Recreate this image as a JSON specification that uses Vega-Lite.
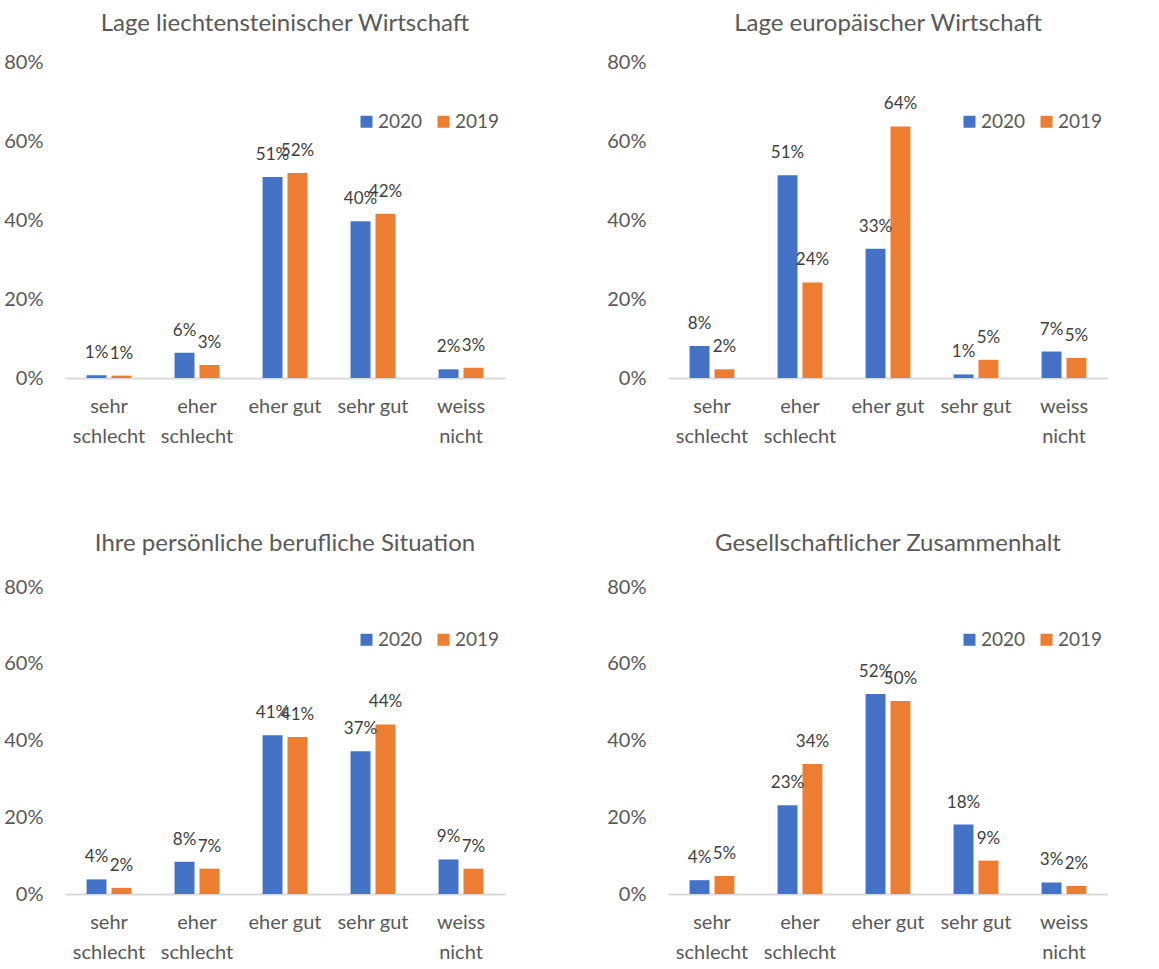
{
  "$schema": "https://vega.github.io/schema/vega-lite/v6.json",
  "padding": {"left": 3, "top": 12, "right": 0, "bottom": 0},
  "background": "white",
  "config": {
    "view": {"stroke": null},
    "font": "Lato",
    "title": {"fontSize": 24, "fontWeight": "normal", "color": "#595959", "anchor": "middle", "offset": 16, "font": "Lato"},
    "axis": {"labelFont": "Lato", "labelFontSize": 20, "labelColor": "#595959", "ticks": false, "grid": false, "title": null},
    "legend": {"labelFont": "Lato", "labelFontSize": 19, "labelColor": "#595959", "symbolType": "square", "symbolSize": 144, "symbolStrokeWidth": 0, "direction": "horizontal", "orient": "none", "columnPadding": 11, "labelOffset": 2, "padding": 0, "title": null}
  },
  "datasets": {
    "d": [
      {"panel": "A", "kategorie": "sehr schlecht", "jahr": "2020", "anteil": 0.007},
      {"panel": "A", "kategorie": "sehr schlecht", "jahr": "2019", "anteil": 0.006},
      {"panel": "A", "kategorie": "eher schlecht", "jahr": "2020", "anteil": 0.064},
      {"panel": "A", "kategorie": "eher schlecht", "jahr": "2019", "anteil": 0.033},
      {"panel": "A", "kategorie": "eher gut", "jahr": "2020", "anteil": 0.509},
      {"panel": "A", "kategorie": "eher gut", "jahr": "2019", "anteil": 0.519},
      {"panel": "A", "kategorie": "sehr gut", "jahr": "2020", "anteil": 0.397},
      {"panel": "A", "kategorie": "sehr gut", "jahr": "2019", "anteil": 0.416},
      {"panel": "A", "kategorie": "weiss nicht", "jahr": "2020", "anteil": 0.022},
      {"panel": "A", "kategorie": "weiss nicht", "jahr": "2019", "anteil": 0.026},
      {"panel": "B", "kategorie": "sehr schlecht", "jahr": "2020", "anteil": 0.081},
      {"panel": "B", "kategorie": "sehr schlecht", "jahr": "2019", "anteil": 0.022},
      {"panel": "B", "kategorie": "eher schlecht", "jahr": "2020", "anteil": 0.513},
      {"panel": "B", "kategorie": "eher schlecht", "jahr": "2019", "anteil": 0.242},
      {"panel": "B", "kategorie": "eher gut", "jahr": "2020", "anteil": 0.327},
      {"panel": "B", "kategorie": "eher gut", "jahr": "2019", "anteil": 0.637},
      {"panel": "B", "kategorie": "sehr gut", "jahr": "2020", "anteil": 0.009},
      {"panel": "B", "kategorie": "sehr gut", "jahr": "2019", "anteil": 0.046},
      {"panel": "B", "kategorie": "weiss nicht", "jahr": "2020", "anteil": 0.067},
      {"panel": "B", "kategorie": "weiss nicht", "jahr": "2019", "anteil": 0.051},
      {"panel": "C", "kategorie": "sehr schlecht", "jahr": "2020", "anteil": 0.038},
      {"panel": "C", "kategorie": "sehr schlecht", "jahr": "2019", "anteil": 0.016},
      {"panel": "C", "kategorie": "eher schlecht", "jahr": "2020", "anteil": 0.084},
      {"panel": "C", "kategorie": "eher schlecht", "jahr": "2019", "anteil": 0.066},
      {"panel": "C", "kategorie": "eher gut", "jahr": "2020", "anteil": 0.414},
      {"panel": "C", "kategorie": "eher gut", "jahr": "2019", "anteil": 0.409},
      {"panel": "C", "kategorie": "sehr gut", "jahr": "2020", "anteil": 0.372},
      {"panel": "C", "kategorie": "sehr gut", "jahr": "2019", "anteil": 0.442},
      {"panel": "C", "kategorie": "weiss nicht", "jahr": "2020", "anteil": 0.090},
      {"panel": "C", "kategorie": "weiss nicht", "jahr": "2019", "anteil": 0.066},
      {"panel": "D", "kategorie": "sehr schlecht", "jahr": "2020", "anteil": 0.036},
      {"panel": "D", "kategorie": "sehr schlecht", "jahr": "2019", "anteil": 0.047},
      {"panel": "D", "kategorie": "eher schlecht", "jahr": "2020", "anteil": 0.231},
      {"panel": "D", "kategorie": "eher schlecht", "jahr": "2019", "anteil": 0.339},
      {"panel": "D", "kategorie": "eher gut", "jahr": "2020", "anteil": 0.521},
      {"panel": "D", "kategorie": "eher gut", "jahr": "2019", "anteil": 0.503},
      {"panel": "D", "kategorie": "sehr gut", "jahr": "2020", "anteil": 0.181},
      {"panel": "D", "kategorie": "sehr gut", "jahr": "2019", "anteil": 0.087},
      {"panel": "D", "kategorie": "weiss nicht", "jahr": "2020", "anteil": 0.030},
      {"panel": "D", "kategorie": "weiss nicht", "jahr": "2019", "anteil": 0.021}
    ]
  },
  "columns": 2,
  "spacing": {"row": 86, "column": 101},
  "resolve": {"scale": {"color": "independent", "x": "independent", "y": "independent"}, "legend": {"color": "independent"}},
  "concat": [
    {
      "title": "Lage liechtensteinischer Wirtschaft",
      "width": 440, "height": 316,
      "data": {"name": "d"},
      "transform": [{"filter": "datum.panel == 'A'"}],
      "encoding": {
        "x": {"field": "kategorie", "type": "nominal", "sort": ["sehr schlecht", "eher schlecht", "eher gut", "sehr gut", "weiss nicht"], "scale": {"paddingInner": 0.49, "paddingOuter": 0.245}, "axis": {"labelAngle": 0, "labelBaseline": "top", "labelLineHeight": 30, "labelPadding": 18, "domainColor": "#D9D9D9", "domainWidth": 2, "labelExpr": "datum.label == 'eher gut' || datum.label == 'sehr gut' ? datum.label : split(datum.label, ' ')"}},
        "xOffset": {"field": "jahr", "type": "nominal", "sort": ["2020", "2019"], "scale": {"paddingInner": 0.2, "paddingOuter": 0}},
        "y": {"field": "anteil", "type": "quantitative", "scale": {"domain": [0, 0.8]}, "axis": {"values": [0, 0.2, 0.4, 0.6, 0.8], "format": ".0%", "domain": false, "labelPadding": 22}}
      },
      "layer": [
        {"mark": {"type": "bar"}, "encoding": {"color": {"field": "jahr", "type": "nominal", "scale": {"domain": ["2020", "2019"], "range": ["#4472C4", "#ED7D31"]}, "legend": {"legendX": 292, "legendY": 50}}}},
        {"mark": {"type": "text", "baseline": "alphabetic", "dy": -17, "fontSize": 17, "color": "#404040", "font": "Lato"}, "encoding": {"text": {"field": "anteil", "type": "quantitative", "format": ".0%"}}}
      ]
    },
    {
      "title": "Lage europäischer Wirtschaft",
      "width": 440, "height": 316,
      "data": {"name": "d"},
      "transform": [{"filter": "datum.panel == 'B'"}],
      "encoding": {
        "x": {"field": "kategorie", "type": "nominal", "sort": ["sehr schlecht", "eher schlecht", "eher gut", "sehr gut", "weiss nicht"], "scale": {"paddingInner": 0.49, "paddingOuter": 0.245}, "axis": {"labelAngle": 0, "labelBaseline": "top", "labelLineHeight": 30, "labelPadding": 18, "domainColor": "#D9D9D9", "domainWidth": 2, "labelExpr": "datum.label == 'eher gut' || datum.label == 'sehr gut' ? datum.label : split(datum.label, ' ')"}},
        "xOffset": {"field": "jahr", "type": "nominal", "sort": ["2020", "2019"], "scale": {"paddingInner": 0.2, "paddingOuter": 0}},
        "y": {"field": "anteil", "type": "quantitative", "scale": {"domain": [0, 0.8]}, "axis": {"values": [0, 0.2, 0.4, 0.6, 0.8], "format": ".0%", "domain": false, "labelPadding": 22}}
      },
      "layer": [
        {"mark": {"type": "bar"}, "encoding": {"color": {"field": "jahr", "type": "nominal", "scale": {"domain": ["2020", "2019"], "range": ["#4472C4", "#ED7D31"]}, "legend": {"legendX": 292, "legendY": 50}}}},
        {"mark": {"type": "text", "baseline": "alphabetic", "dy": -17, "fontSize": 17, "color": "#404040", "font": "Lato"}, "encoding": {"text": {"field": "anteil", "type": "quantitative", "format": ".0%"}}}
      ]
    },
    {
      "title": {"text": "Ihre persönliche berufliche Situation", "offset": 21},
      "width": 440, "height": 307,
      "data": {"name": "d"},
      "transform": [{"filter": "datum.panel == 'C'"}],
      "encoding": {
        "x": {"field": "kategorie", "type": "nominal", "sort": ["sehr schlecht", "eher schlecht", "eher gut", "sehr gut", "weiss nicht"], "scale": {"paddingInner": 0.49, "paddingOuter": 0.245}, "axis": {"labelAngle": 0, "labelBaseline": "top", "labelLineHeight": 30, "labelPadding": 18, "domainColor": "#D9D9D9", "domainWidth": 2, "labelExpr": "datum.label == 'eher gut' || datum.label == 'sehr gut' ? datum.label : split(datum.label, ' ')"}},
        "xOffset": {"field": "jahr", "type": "nominal", "sort": ["2020", "2019"], "scale": {"paddingInner": 0.2, "paddingOuter": 0}},
        "y": {"field": "anteil", "type": "quantitative", "scale": {"domain": [0, 0.8]}, "axis": {"values": [0, 0.2, 0.4, 0.6, 0.8], "format": ".0%", "domain": false, "labelPadding": 22}}
      },
      "layer": [
        {"mark": {"type": "bar"}, "encoding": {"color": {"field": "jahr", "type": "nominal", "scale": {"domain": ["2020", "2019"], "range": ["#4472C4", "#ED7D31"]}, "legend": {"legendX": 292, "legendY": 43}}}},
        {"mark": {"type": "text", "baseline": "alphabetic", "dy": -17, "fontSize": 17, "color": "#404040", "font": "Lato"}, "encoding": {"text": {"field": "anteil", "type": "quantitative", "format": ".0%"}}}
      ]
    },
    {
      "title": {"text": "Gesellschaftlicher Zusammenhalt", "offset": 21},
      "width": 440, "height": 307,
      "data": {"name": "d"},
      "transform": [{"filter": "datum.panel == 'D'"}],
      "encoding": {
        "x": {"field": "kategorie", "type": "nominal", "sort": ["sehr schlecht", "eher schlecht", "eher gut", "sehr gut", "weiss nicht"], "scale": {"paddingInner": 0.49, "paddingOuter": 0.245}, "axis": {"labelAngle": 0, "labelBaseline": "top", "labelLineHeight": 30, "labelPadding": 18, "domainColor": "#D9D9D9", "domainWidth": 2, "labelExpr": "datum.label == 'eher gut' || datum.label == 'sehr gut' ? datum.label : split(datum.label, ' ')"}},
        "xOffset": {"field": "jahr", "type": "nominal", "sort": ["2020", "2019"], "scale": {"paddingInner": 0.2, "paddingOuter": 0}},
        "y": {"field": "anteil", "type": "quantitative", "scale": {"domain": [0, 0.8]}, "axis": {"values": [0, 0.2, 0.4, 0.6, 0.8], "format": ".0%", "domain": false, "labelPadding": 22}}
      },
      "layer": [
        {"mark": {"type": "bar"}, "encoding": {"color": {"field": "jahr", "type": "nominal", "scale": {"domain": ["2020", "2019"], "range": ["#4472C4", "#ED7D31"]}, "legend": {"legendX": 292, "legendY": 43}}}},
        {"mark": {"type": "text", "baseline": "alphabetic", "dy": -17, "fontSize": 17, "color": "#404040", "font": "Lato"}, "encoding": {"text": {"field": "anteil", "type": "quantitative", "format": ".0%"}}}
      ]
    }
  ]
}
